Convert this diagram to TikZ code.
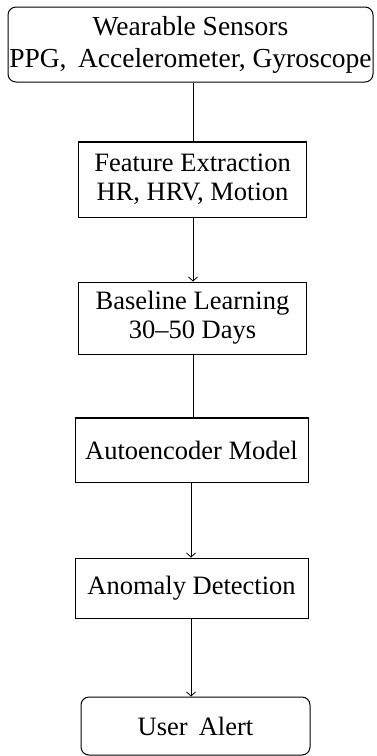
\documentclass[tikz,border=0pt]{standalone}
\usepackage{fontspec}
\setmainfont{Liberation Serif}
\usetikzlibrary{arrows.meta}
\tikzset{
  box/.style={draw, line width=1pt, inner sep=0pt, align=center, font=\fontsize{26.5}{29}\selectfont},
  rbox/.style={box, rounded corners=8pt},
  conn/.style={line width=1pt},
  arr/.style={conn, -{Straight Barb[length=4pt,width=9pt,line width=0.8pt]}},
}
\begin{document}
\begin{tikzpicture}[x=1pt,y=-1pt]
\useasboundingbox (0,0) rectangle (376,756);
\node[rbox, minimum width=365pt, minimum height=75pt, font=\fontsize{27.5}{32}\selectfont] (sens) at (190.5,44.5) {Wearable Sensors\\PPG,\, Accelerometer, Gyroscope};
\node[box, minimum width=228pt, minimum height=75pt] (feat) at (192.5,179.5) {Feature Extraction\\HR, HRV, Motion};
\node[box, minimum width=228pt, minimum height=72pt] (base) at (192.5,318) {Baseline Learning\\30--50 Days};
\node[box, minimum width=233pt, minimum height=64pt] (auto) at (191.5,450) {Autoencoder Model};
\node[box, minimum width=233pt, minimum height=60pt] (anom) at (191.5,588) {Anomaly Detection};
\node[rbox, minimum width=229pt, minimum height=58pt] (alert) at (195.5,726) {User\, Alert};
\draw[line width=2pt] (feat.north west) -- (feat.north east);
\draw[line width=2pt] (auto.north west) -- (auto.north east);
\draw[conn] (sens.south -| 193,0) -- (feat.north -| 193,0);
\draw[arr] (feat.south -| 193,0) -- (base.north -| 193,0);
\draw[conn] (base.south -| 193,0) -- (auto.north -| 193,0);
\draw[arr] (auto.south -| 191,0) -- (anom.north -| 191,0);
\draw[arr] (anom.south -| 191,0) -- (alert.north -| 191,0);
\end{tikzpicture}
\end{document}
